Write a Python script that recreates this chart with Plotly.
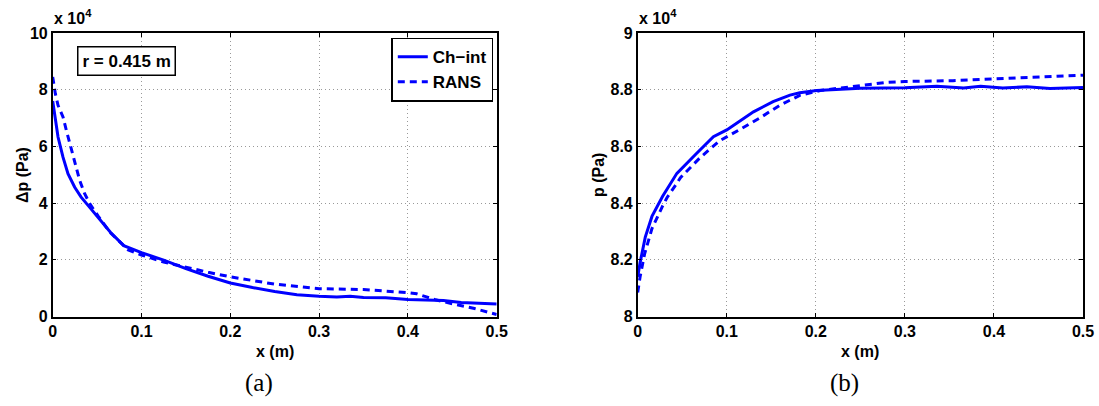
import plotly.graph_objects as go

# ---------- data (pressure values in units of 10^4 Pa) ----------
# Panel (a): pressure drop, r = 0.415 m
a_chint_x = [0, 0.003, 0.006, 0.0116, 0.0172, 0.0248, 0.032, 0.0398, 0.051, 0.065, 0.08,
             0.1, 0.125, 0.15, 0.175, 0.2, 0.225, 0.25, 0.275, 0.3, 0.32, 0.335, 0.35,
             0.375, 0.4, 0.42, 0.44, 0.46, 0.48, 0.5]
a_chint_y = [7.6, 6.92, 6.33, 5.62, 5.04, 4.56, 4.21, 3.92, 3.5, 2.97, 2.5,
             2.25, 1.99, 1.69, 1.42, 1.18, 1.02, 0.88, 0.77, 0.71, 0.69, 0.71, 0.67,
             0.66, 0.6, 0.58, 0.56, 0.49, 0.46, 0.44]

a_rans_x = [0, 0.003, 0.006, 0.0116, 0.0154, 0.019, 0.0229, 0.0266, 0.0304, 0.036, 0.0417,
            0.051, 0.065, 0.085, 0.1, 0.125, 0.15, 0.175, 0.2, 0.25, 0.3, 0.35, 0.4,
            0.41, 0.42, 0.43, 0.45, 0.475, 0.5]
a_rans_y = [8.45, 7.86, 7.45, 7.04, 6.56, 6.15, 5.74, 5.27, 4.8, 4.33, 3.98,
            3.55, 2.95, 2.35, 2.17, 1.92, 1.73, 1.56, 1.40, 1.14, 0.98, 0.95, 0.84,
            0.80, 0.70, 0.60, 0.45, 0.28, 0.07]

# Panel (b): pressure
b_chint_x = [0, 0.0027, 0.0085, 0.016, 0.028, 0.039, 0.044, 0.066, 0.085, 0.1, 0.13,
             0.152, 0.171, 0.182, 0.201, 0.25, 0.3, 0.336, 0.366, 0.385, 0.41, 0.437,
             0.463, 0.5]
b_chint_y = [8.14, 8.19, 8.28, 8.353, 8.424, 8.48, 8.505, 8.575, 8.634, 8.658, 8.722,
             8.758, 8.781, 8.789, 8.797, 8.805, 8.807, 8.812, 8.806, 8.812, 8.806, 8.81,
             8.804, 8.808]

b_rans_x = [0, 0.0027, 0.0077, 0.016, 0.028, 0.033, 0.043, 0.048, 0.07, 0.092, 0.115,
            0.137, 0.16, 0.182, 0.205, 0.239, 0.28, 0.3, 0.354, 0.4, 0.448, 0.5]
b_rans_y = [8.085, 8.14, 8.22, 8.31, 8.39, 8.42, 8.465, 8.49, 8.56, 8.62, 8.66,
            8.70, 8.746, 8.78, 8.797, 8.81, 8.826, 8.829, 8.832, 8.838, 8.844, 8.851]

x_ticks = [0, 0.1, 0.2, 0.3, 0.4, 0.5]
x_ticklabels = ["0", "0.1", "0.2", "0.3", "0.4", "0.5"]
a_yticks = [0, 2, 4, 6, 8, 10]
a_yticklabels = ["0", "2", "4", "6", "8", "10"]
b_yticks = [8, 8.2, 8.4, 8.6, 8.8, 9]
b_yticklabels = ["8", "8.2", "8.4", "8.6", "8.8", "9"]

series_names = ["Ch\u2212int", "RANS"]

# ---------- figure ----------
W, H = 1099, 406
BLUE = "#0000FF"
FONT = "Liberation Sans"

fig = go.Figure()
fig.add_trace(go.Scatter(x=a_chint_x, y=a_chint_y, mode="lines", name=series_names[0],
                         line=dict(color=BLUE, width=3), xaxis="x", yaxis="y"))
fig.add_trace(go.Scatter(x=a_rans_x, y=a_rans_y, mode="lines", name=series_names[1],
                         line=dict(color=BLUE, width=3, dash="7px,5px"), xaxis="x", yaxis="y"))
fig.add_trace(go.Scatter(x=b_chint_x, y=b_chint_y, mode="lines", name=series_names[0],
                         line=dict(color=BLUE, width=3), xaxis="x2", yaxis="y2",
                         showlegend=False))
fig.add_trace(go.Scatter(x=b_rans_x, y=b_rans_y, mode="lines", name=series_names[1],
                         line=dict(color=BLUE, width=3, dash="7px,5px"), xaxis="x2", yaxis="y2",
                         showlegend=False))

def px_x(p):
    return p / W

def px_y(p):
    return 1 - p / H

tickfont = dict(family=FONT, size=16, color="black", weight="bold")
common = dict(showline=True, linecolor="black", linewidth=1.5, mirror="allticks",
              ticks="inside", ticklen=4, tickwidth=1, tickcolor="black",
              showgrid=True, gridcolor="#999999", gridwidth=1, griddash="1px,3px",
              zeroline=False, tickfont=tickfont, fixedrange=True, automargin=False)

yd = [px_y(316.5), px_y(33)]
fig.update_layout(
    template="none",
    width=W, height=H, margin=dict(l=0, r=0, t=0, b=0, pad=0, autoexpand=False),
    paper_bgcolor="white", plot_bgcolor="white",
    xaxis=dict(domain=[px_x(52.7), px_x(496.7)], range=[0, 0.5], anchor="y",
               tickvals=x_ticks, ticktext=x_ticklabels, **common),
    yaxis=dict(domain=yd, range=[0, 10], anchor="x",
               tickvals=a_yticks, ticktext=a_yticklabels, **common),
    xaxis2=dict(domain=[px_x(637.7), px_x(1083)], range=[0, 0.5], anchor="y2",
                tickvals=x_ticks, ticktext=x_ticklabels, **common),
    yaxis2=dict(domain=yd, range=[8, 9], anchor="x2",
                tickvals=b_yticks, ticktext=b_yticklabels, **common),
    showlegend=True,
    legend=dict(x=px_x(493.3), y=px_y(37.7), xanchor="right", yanchor="top",
                bgcolor="white", bordercolor="black", borderwidth=1.5,
                font=dict(family=FONT, size=17, color="black", weight="bold"),
                tracegroupgap=0, itemwidth=30),
)

def ann(text, x, y, size, xanchor="center", yanchor="middle", angle=0, family=FONT,
        weight="bold", **kw):
    fig.add_annotation(text=text, x=x, y=y, xref="paper", yref="paper",
                       xanchor=xanchor, yanchor=yanchor, textangle=angle, showarrow=False,
                       font=dict(family=family, size=size, color="black", weight=weight), **kw)

# axis titles
ann("x (m)", px_x(275), px_y(351), 16)
ann("x (m)", px_x(860), px_y(351), 16)
ann("\u0394p (Pa)", px_x(22), px_y(175), 16, angle=-90)
ann("p (Pa)", px_x(598), px_y(175), 16, angle=-90)
# exponent labels
ann("x 10<sup>4</sup>", px_x(52), px_y(29), 16, xanchor="left", yanchor="bottom")
ann("x 10<sup>4</sup>", px_x(637), px_y(29), 16, xanchor="left", yanchor="bottom")
# radius box
ann("r = 0.415 m", px_x(126), px_y(61.2), 17, bordercolor="black", borderwidth=1.5,
    borderpad=4, bgcolor="white")
# sub-figure captions
ann("(a)", px_x(259), px_y(383), 25, family="Liberation Serif", weight="normal")
ann("(b)", px_x(844), px_y(383), 25, family="Liberation Serif", weight="normal")

fig.write_html("out.html", config={"displayModeBar": False},
               post_script="document.body.style.margin='0';document.body.style.overflow='hidden';")
